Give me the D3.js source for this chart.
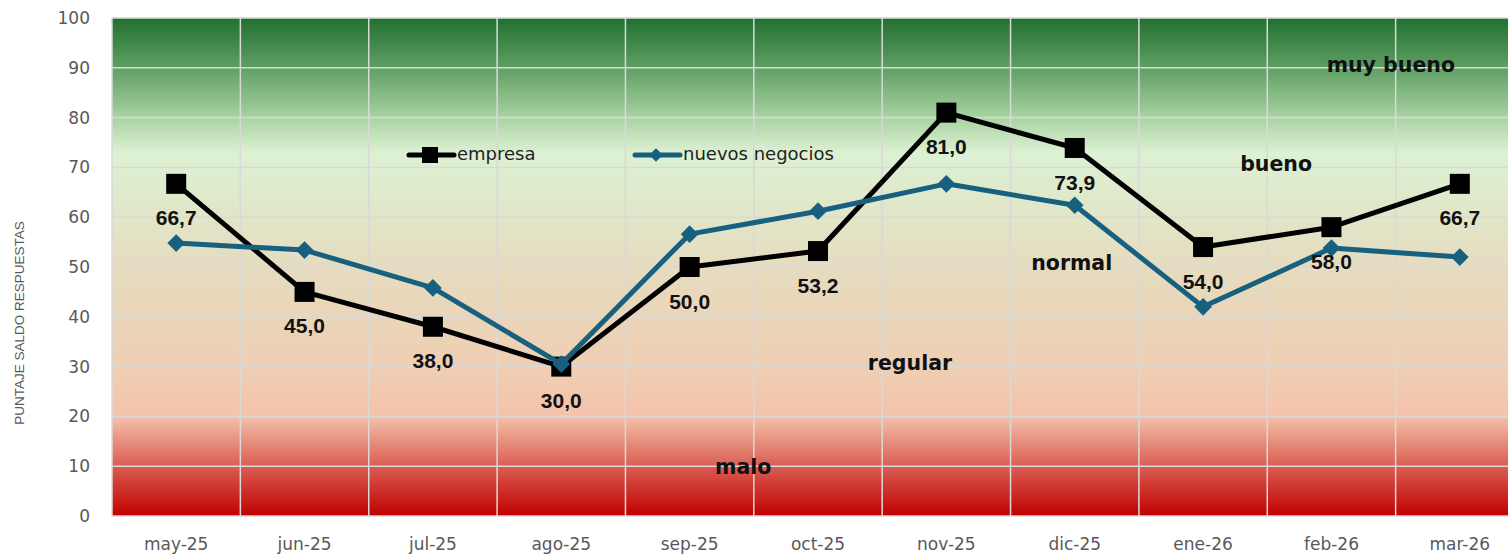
<!DOCTYPE html>
<html>
<head>
<meta charset="utf-8">
<script src="https://cdn.jsdelivr.net/npm/d3@7"></script>
<style>
  body { margin: 0; background: #fff; }
  svg { display: block; font-family: "DejaVu Sans", "Liberation Sans", Arial, sans-serif; }
</style>
</head>
<body>
<svg id="chart" width="1508" height="554"></svg>
<script>
// data
let months = ['may-25', 'jun-25', 'jul-25', 'ago-25', 'sep-25', 'oct-25', 'nov-25', 'dic-25', 'ene-26', 'feb-26', 'mar-26'];
let empresa = [66.7, 45.0, 38.0, 30.0, 50.0, 53.2, 81.0, 73.9, 54.0, 58.0, 66.7];
let nuevosNegocios = [54.8, 53.4, 45.8, 30.5, 56.6, 61.2, 66.7, 62.4, 42.0, 53.8, 52.0];
let yTicks = [0, 10, 20, 30, 40, 50, 60, 70, 80, 90, 100];
let zones = [
    {name: 'muy bueno', month: 'mar-26', value: 90.3, dx: -69},
    {name: 'bueno', month: 'ene-26', value: 70.5, dx: 73},
    {name: 'normal', month: 'dic-25', value: 50.6, dx: -3},
    {name: 'regular', month: 'oct-25', value: 30.5, dx: 92},
    {name: 'malo', month: 'ago-25', value: 9.7, dx: 182}
];

let svg = d3.select('#chart');
let margin = {l: 112, t: 18, r: -16, b: 38};
let size = {w: 1508, h: 554};

let xScale = d3.scaleBand()
    .domain(months)
    .range([margin.l, size.w - margin.r]);

let yScale = d3.scaleLinear()
    .domain([0, 100])
    .range([size.h - margin.b, margin.t]);

// background gradient
let defs = svg.append('defs');
let grad = defs.append('linearGradient')
    .attr('id', 'bg')
    .attr('x1', 0).attr('y1', 0).attr('x2', 0).attr('y2', 1);
[[0, '#217030'], [0.1, '#5f9f63'], [0.2, '#a9d2a2'], [0.27, '#dcf1d3'],
 [0.5, '#e6dcbf'], [0.72, '#efcdb2'], [0.8, '#f4c2aa'], [0.9, '#da5d52'], [1, '#c00000']]
    .forEach(s => grad.append('stop').attr('offset', s[0]).attr('stop-color', s[1]));

svg.append('rect')
    .attr('x', margin.l)
    .attr('y', yScale(100))
    .attr('width', xScale.range()[1] - margin.l)
    .attr('height', yScale(0) - yScale(100))
    .attr('fill', 'url(#bg)');

// gridlines
svg.append('g')
    .selectAll('line')
    .data(yTicks)
    .join('line')
    .attr('x1', margin.l)
    .attr('x2', xScale.range()[1])
    .attr('y1', d => yScale(d))
    .attr('y2', d => yScale(d))
    .attr('stroke', '#d9d9d9')
    .attr('stroke-width', 1.5);

svg.append('g')
    .selectAll('line')
    .data(months)
    .join('line')
    .attr('x1', d => xScale(d))
    .attr('x2', d => xScale(d))
    .attr('y1', yScale(100))
    .attr('y2', yScale(0))
    .attr('stroke', '#d9d9d9')
    .attr('stroke-width', 1.5);

// axes
let yAxis = d3.axisLeft(yScale).tickValues(yTicks).tickSize(0).tickPadding(22);
let yG = svg.append('g')
    .attr('transform', `translate(${margin.l}, 0)`)
    .call(yAxis);
yG.select('.domain').remove();
yG.selectAll('text')
    .style('font-size', '17px')
    .attr('fill', '#595959')
    .attr('font-family', '"DejaVu Sans", sans-serif');

let xAxis = d3.axisBottom(xScale).tickSize(0).tickPadding(22);
let xG = svg.append('g')
    .attr('transform', `translate(0, ${yScale(0)})`)
    .call(xAxis);
xG.select('.domain').remove();
xG.selectAll('text')
    .style('font-size', '17px')
    .attr('fill', '#595959')
    .attr('font-family', '"DejaVu Sans", sans-serif');

svg.append('text')
    .attr('transform', 'translate(24, 323) rotate(-90)')
    .attr('text-anchor', 'middle')
    .style('font-size', '13.5px')
    .style('font-family', '"Liberation Sans", Arial, sans-serif')
    .attr('fill', '#595959')
    .text('PUNTAJE SALDO RESPUESTAS');

// zone labels
svg.append('g')
    .selectAll('text')
    .data(zones)
    .join('text')
    .attr('x', d => xScale(d.month) + xScale.bandwidth() / 2 + d.dx)
    .attr('y', d => yScale(d.value))
    .attr('text-anchor', 'middle')
    .attr('dominant-baseline', 'middle')
    .style('font-size', '20.5px')
    .style('font-weight', 'bold')
    .attr('fill', '#111')
    .text(d => d.name);

let cx = m => xScale(m) + xScale.bandwidth() / 2;
let line = d3.line()
    .x((d, i) => cx(months[i]))
    .y(d => yScale(d));

let blue = '#17607f';

// empresa series
svg.append('path')
    .datum(empresa)
    .attr('d', line)
    .attr('fill', 'none')
    .attr('stroke', '#000')
    .attr('stroke-width', 5)
    .attr('stroke-linejoin', 'round');

svg.append('g')
    .selectAll('rect')
    .data(empresa)
    .join('rect')
    .attr('x', (d, i) => cx(months[i]) - 10)
    .attr('y', d => yScale(d) - 10)
    .attr('width', 20)
    .attr('height', 20)
    .attr('fill', '#000');

// nuevos negocios series
svg.append('path')
    .datum(nuevosNegocios)
    .attr('d', line)
    .attr('fill', 'none')
    .attr('stroke', blue)
    .attr('stroke-width', 5)
    .attr('stroke-linejoin', 'round');

let diamond = d3.symbol().type(d3.symbolDiamond2).size(200);
svg.append('g')
    .selectAll('path')
    .data(nuevosNegocios)
    .join('path')
    .attr('d', diamond)
    .attr('transform', (d, i) => `translate(${cx(months[i])}, ${yScale(d)})`)
    .attr('fill', blue);

// data labels (empresa)
svg.append('g')
    .selectAll('text')
    .data(empresa)
    .join('text')
    .attr('x', (d, i) => cx(months[i]))
    .attr('y', d => yScale(d) + 36)
    .attr('text-anchor', 'middle')
    .attr('dominant-baseline', 'middle')
    .style('font-size', '21px')
    .style('font-weight', 'bold')
    .style('font-family', '"Liberation Sans", Arial, sans-serif')
    .attr('fill', '#111')
    .text(d => d3.format('.1f')(d).replace('.', ','));

// legend
let legend = [
    {name: 'empresa', x: 407, color: '#000', marker: 'square'},
    {name: 'nuevos negocios', x: 633, color: blue, marker: 'diamond'}
];
let lg = svg.append('g').selectAll('g')
    .data(legend)
    .join('g')
    .attr('transform', d => `translate(${d.x}, 155)`);
lg.append('line')
    .attr('x1', 2).attr('x2', 47)
    .attr('stroke', d => d.color)
    .attr('stroke-width', 5)
    .attr('stroke-linecap', 'round');
lg.filter(d => d.marker === 'square').append('rect')
    .attr('x', 15).attr('y', -8).attr('width', 16).attr('height', 16)
    .attr('fill', '#000');
lg.filter(d => d.marker === 'diamond').append('path')
    .attr('d', d3.symbol().type(d3.symbolDiamond2).size(120))
    .attr('transform', 'translate(23, 0)')
    .attr('fill', blue);
lg.append('text')
    .attr('x', 50)
    .attr('dominant-baseline', 'middle')
    .style('font-size', '18px')
    .attr('fill', '#222')
    .text(d => d.name);
</script>
</body>
</html>
